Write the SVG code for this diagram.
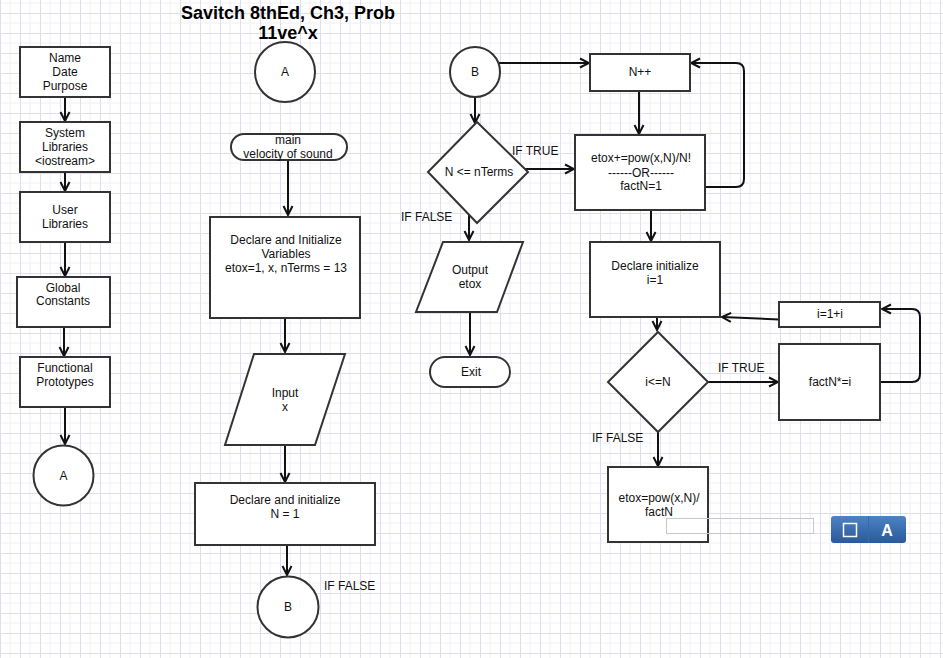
<svg xmlns="http://www.w3.org/2000/svg" width="943" height="658" viewBox="0 0 943 658">
<defs>
<pattern id="grid" x="0" y="13" width="20" height="20" patternUnits="userSpaceOnUse">
<path d="M10,0 V20 M0,10 H20" stroke="#f0f0f8" stroke-width="1" fill="none"/>
<path d="M0.5,0 V20 M0,0.5 H20" stroke="#dedeee" stroke-width="1" fill="none"/>
</pattern>
<marker id="arr" viewBox="0 0 12 12" markerWidth="12" markerHeight="12" refX="10" refY="6" orient="auto" markerUnits="userSpaceOnUse">
<path d="M1,1.5 L10,6 L1,10.5" fill="none" stroke="#111" stroke-width="2"/>
</marker>
<linearGradient id="btn" x1="0" y1="0" x2="0" y2="1">
<stop offset="0" stop-color="#4f82c2"/>
<stop offset="1" stop-color="#285a9c"/>
</linearGradient>
<style>
.n{fill:#fff;stroke:#333;stroke-width:2}
.t{font-family:"Liberation Sans",Arial,sans-serif;font-size:12px;fill:#111;text-anchor:middle}
.l{font-family:"Liberation Sans",Arial,sans-serif;font-size:12px;fill:#111}
.c{fill:none;stroke:#111;stroke-width:2;marker-end:url(#arr)}
.title{font-family:"Liberation Sans",Arial,sans-serif;font-size:18px;font-weight:bold;fill:#000;text-anchor:middle}
</style>
</defs>
<rect width="943" height="658" fill="#fff"/>
<rect width="943" height="658" fill="url(#grid)"/>

<g id="title">
<text class="title" x="288" y="19">Savitch 8thEd, Ch3, Prob</text>
<text class="title" x="288" y="39">11ve^x</text>
</g>

<g id="connectors">
<path class="c" d="M65,97 V121"/>
<path class="c" d="M65,172 V191"/>
<path class="c" d="M65,242 V276"/>
<path class="c" d="M64,327 V356"/>
<path class="c" d="M65,407 V444"/>
<path class="c" d="M288,160 V215"/>
<path class="c" d="M285,318 V352"/>
<path class="c" d="M285,445 V482"/>
<path class="c" d="M287,545 V575"/>
<path class="c" d="M498,63 H589"/>
<path class="c" d="M475,97 V123"/>
<path class="c" d="M523,169 H574"/>
<path class="c" d="M469,197 V240"/>
<path class="c" d="M470,312 V355"/>
<path class="c" d="M639,91 V134"/>
<path class="c" d="M705,187 H736 Q744,187 744,179 V71 Q744,63 736,63 H691"/>
<path class="c" d="M651,210 V241"/>
<path class="c" d="M657,309 V330"/>
<path class="c" d="M779,319.5 L722,317"/>
<path class="c" d="M708,382 H778"/>
<path class="c" d="M881,382 H912 Q920,382 920,374 V317 Q920,309 912,309 H882"/>
<path class="c" d="M658,432 V466"/>
</g>

<g id="lbl-false-1"><text class="l" x="324" y="590">IF FALSE</text></g>
<g id="lbl-true-1"><text class="l" x="512" y="155">IF TRUE</text></g>
<g id="lbl-false-2"><text class="l" x="401" y="221">IF FALSE</text></g>
<g id="lbl-true-2"><text class="l" x="718" y="372">IF TRUE</text></g>
<g id="lbl-false-3"><text class="l" x="592" y="442">IF FALSE</text></g>

<g id="n-name"><rect class="n" x="20" y="47" width="90" height="50"/>
<text class="t" x="65" y="62">Name</text><text class="t" x="65" y="76">Date</text><text class="t" x="65" y="90">Purpose</text></g>
<g id="n-syslib"><rect class="n" x="20" y="122" width="90" height="50"/>
<text class="t" x="65" y="137">System</text><text class="t" x="65" y="151">Libraries</text><text class="t" x="65" y="165">&lt;iostream&gt;</text></g>
<g id="n-userlib"><rect class="n" x="20" y="192" width="90" height="50"/>
<text class="t" x="65" y="214">User</text><text class="t" x="65" y="228">Libraries</text></g>
<g id="n-global"><rect class="n" x="17" y="277" width="93" height="50"/>
<text class="t" x="63" y="292">Global</text><text class="t" x="63" y="305">Constants</text></g>
<g id="n-proto"><rect class="n" x="20" y="357" width="90" height="50"/>
<text class="t" x="65" y="372">Functional</text><text class="t" x="65" y="386">Prototypes</text></g>
<g id="n-a1"><circle class="n" cx="63.5" cy="475.5" r="30"/>
<text class="t" x="63.5" y="480">A</text></g>

<g id="n-a2"><circle class="n" cx="285" cy="72" r="30"/>
<text class="t" x="285" y="76">A</text></g>
<g id="n-main"><rect class="n" x="231" y="134" width="116" height="26" rx="13"/>
<text class="t" x="288" y="144">main</text><text class="t" x="288" y="158">velocity of sound</text></g>
<g id="n-decl1"><rect class="n" x="210" y="217" width="150" height="101"/>
<text class="t" x="286" y="244">Declare and Initialize</text><text class="t" x="286" y="258">Variables</text><text class="t" x="286" y="272">etox=1, x, nTerms = 13</text></g>
<g id="n-input"><polygon class="n" points="254,354 345,354 315,445 225,445"/>
<text class="t" x="285" y="397">Input</text><text class="t" x="285" y="411">x</text></g>
<g id="n-decl2"><rect class="n" x="195" y="483" width="180" height="62"/>
<text class="t" x="285" y="504">Declare and initialize</text><text class="t" x="285" y="518">N = 1</text></g>
<g id="n-b1"><circle class="n" cx="288" cy="607" r="30.5"/>
<text class="t" x="288" y="611">B</text></g>

<g id="n-b2"><circle class="n" cx="475" cy="72" r="25"/>
<text class="t" x="475" y="76">B</text></g>
<g id="n-cond1"><polygon class="n" points="477,122 528,172 477,223 428,172"/>
<text class="t" x="479" y="176">N &lt;= nTerms</text></g>
<g id="n-output"><polygon class="n" points="443,242 523,242 497,312 416,312"/>
<text class="t" x="470" y="274">Output</text><text class="t" x="470" y="288">etox</text></g>
<g id="n-exit"><rect class="n" x="430" y="357" width="80" height="30" rx="15"/>
<text class="t" x="471" y="376">Exit</text></g>

<g id="n-npp"><rect class="n" x="590" y="54" width="100" height="37"/>
<text class="t" x="640" y="76">N++</text></g>
<g id="n-etox"><rect class="n" x="575" y="135" width="130" height="75"/>
<text class="t" x="641" y="162">etox+=pow(x,N)/N!</text><text class="t" x="641" y="177">------OR------</text><text class="t" x="641" y="190">factN=1</text></g>
<g id="n-decl3"><rect class="n" x="590" y="242" width="130" height="75"/>
<text class="t" x="655" y="270">Declare initialize</text><text class="t" x="655" y="284">i=1</text></g>
<g id="n-cond2"><polygon class="n" points="658,332 708,382 658,432 608,382"/>
<text class="t" x="658" y="386">i&lt;=N</text></g>
<g id="n-fact"><rect class="n" x="779" y="344" width="101" height="76"/>
<text class="t" x="830" y="386">factN*=i</text></g>
<g id="n-inc"><rect class="n" x="779" y="302" width="101" height="25"/>
<text class="t" x="830" y="318">i=1+i</text></g>
<g id="n-etox2"><rect class="n" x="608" y="467" width="100" height="75"/>
<text class="t" x="659" y="502">etox=pow(x,N)/</text><text class="t" x="659" y="516">factN</text></g>

<g id="widget">
<rect x="666.5" y="518.5" width="147" height="15" fill="none" stroke="#c8c8c8" stroke-width="1"/>
<rect x="831" y="516" width="75" height="27" rx="3" fill="url(#btn)"/>
<line x1="868.5" y1="516" x2="868.5" y2="543" stroke="#3c6aa8" stroke-width="1"/>
<rect x="843.5" y="523.5" width="13" height="13" fill="none" stroke="#fff" stroke-width="1.5"/>
<text x="887" y="536" font-family="Liberation Sans,Arial,sans-serif" font-size="16" font-weight="bold" fill="#fff" text-anchor="middle">A</text>
</g>
</svg>
